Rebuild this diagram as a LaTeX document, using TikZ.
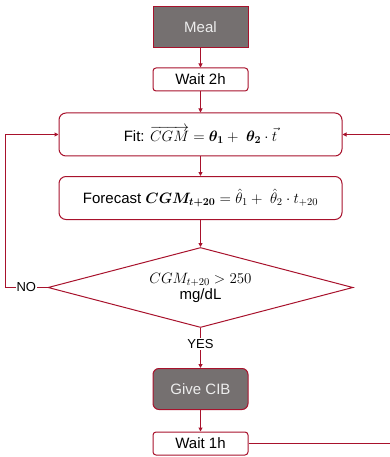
\RequirePackage{fix-cm}
\documentclass[tikz,border=0pt]{standalone}
\usepackage{amsmath}
\usepackage{fontspec}
\setmainfont{Liberation Sans}
\usepackage{tikz}
\usetikzlibrary{shapes.geometric,arrows.meta}
\definecolor{flowred}{RGB}{168,18,44}
\definecolor{boxgray}{RGB}{117,112,112}

\begin{document}
\begin{tikzpicture}[x=1pt,y=-1pt,>={Triangle[length=4pt,width=4pt]}]
 \tikzstyle{base} = [draw=flowred,line width=1pt,font=\fontsize{15}{18}\selectfont,inner sep=0pt,align=center]
 \tikzstyle{actbox} = [base,fill=boxgray,text=white!93!black,minimum width=95pt,minimum height=41pt]
 \tikzstyle{waitbox} = [base,fill=white,rounded corners=3pt,minimum width=95pt,minimum height=23pt]
 \tikzstyle{calcbox} = [base,fill=white,rounded corners=7pt,minimum width=283pt,minimum height=43pt]
 \tikzstyle{checkbox} = [base,diamond,aspect=3.8,minimum width=305pt,minimum height=80pt]
 \tikzstyle{flow} = [draw=flowred,line width=1pt]
 \tikzstyle{answer} = [fill=white,text=black,inner sep=1pt,font=\fontsize{13}{15}\selectfont]

 \useasboundingbox (0,0) rectangle (389,457);

 % Boxes
 \node[actbox] (meal) at (200.5,27.5) {Meal};
 \node[waitbox] (wait2) at (200.5,79.5) {Wait 2h};
 \node[calcbox] (fit) at (200.5,134.5) {Fit: $\overrightarrow{CGM} = \boldsymbol{\theta_1} +\ \boldsymbol{\theta_2}\cdot\vec{t}$};
 \node[calcbox] (forecast) at (200.5,198) {Forecast $\boldsymbol{CGM_{t+20}} = \hat{\theta}_1 +\ \hat{\theta}_2\cdot t_{+20}$};
 \node[checkbox] (check) at (200.5,287.5) {$CGM_{t+20} > 250$\\[-2pt]mg/dL};
 \node[actbox,rounded corners=6pt] (cib) at (200.5,389) {Give CIB};
 \node[waitbox] (wait1) at (200.5,443.5) {Wait 1h};

 \coordinate (noturn) at (5,287.5);
 \coordinate (loopturn) at (395,443.5);

 % Arrows
 \draw[flow,->] (meal) -- (wait2);
 \draw[flow,->] (wait2) -- (fit);
 \draw[flow,->] (fit) -- (forecast);
 \draw[flow,->] (forecast) -- (check);
 \draw[flow,->] (check.south) -- node[answer,pos=0.4] {YES} (cib.north);
 \draw[flow,->] (check.west) -- node[answer] {NO} (noturn) |- (fit.west);
 \draw[flow,->] (cib) -- (wait1);
 \draw[flow,->] (wait1.east) -- (loopturn) |- (fit.east);

\end{tikzpicture}
\end{document}
